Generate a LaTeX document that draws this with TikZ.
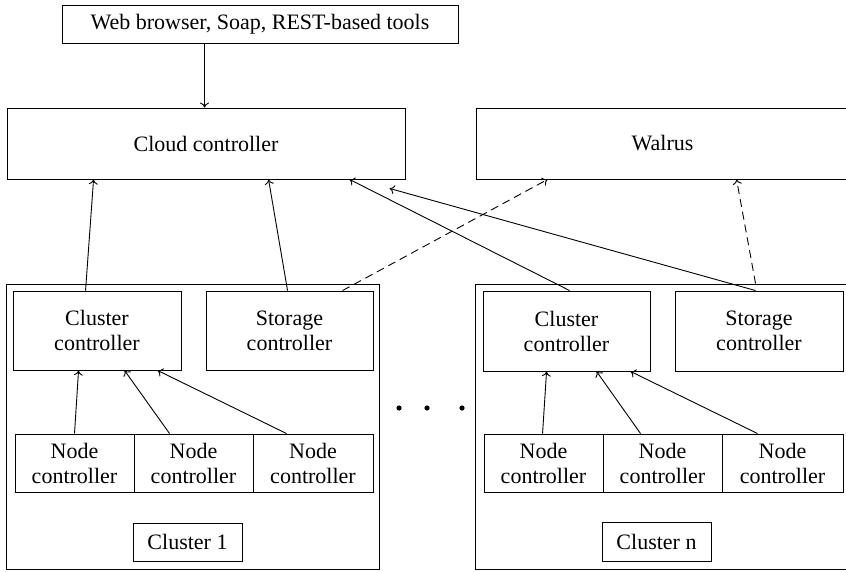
\documentclass[tikz,border=0pt]{standalone}
\usepackage{fontspec}
\setmainfont{Liberation Serif}
\usetikzlibrary{arrows.meta}
\begin{document}
\begin{tikzpicture}[x=1pt,y=-1pt,line width=0.9pt,
  box/.style={draw,inner sep=0pt,align=center,font=\fontsize{22}{25}\selectfont},
  arr/.style={-{To[length=5pt,width=9pt]}},
  darr/.style={-{To[length=5pt,width=9pt]},dash pattern=on 8pt off 5pt}]
\useasboundingbox (0,0) rectangle (846,572);
\clip (0,0) rectangle (846,572);
% top
\node[box,minimum width=396pt,minimum height=38pt] (web) at (260,24) {Web browser, Soap, REST-based tools};
\node[box,minimum width=398pt,minimum height=71pt] (cloud) at (206,143.5) {Cloud controller};
\node[box,minimum width=373pt,minimum height=71pt] (walrus) at (662.5,143.5) {Walrus};
% cluster 1
\node[box,minimum width=373pt,minimum height=285pt] (cl1) at (192.5,426.5) {};
\node[box,minimum width=168pt,minimum height=79pt] (cc1) at (97,330.5) {Cluster\\controller};
\node[box,minimum width=167pt,minimum height=79pt] (sc1) at (289.5,330.5) {Storage\\controller};
\node[box,minimum width=119pt,minimum height=58pt] (n11) at (74.5,463) {Node\\controller};
\node[box,minimum width=119pt,minimum height=58pt] (n12) at (193.5,463) {Node\\controller};
\node[box,minimum width=120pt,minimum height=58pt] (n13) at (313,463) {Node\\controller};
\node[box,minimum width=109pt,minimum height=38pt] (lab1) at (187.5,542) {Cluster 1};
% cluster n
\node[box,minimum width=373pt,minimum height=285pt] (cln) at (661.5,426.5) {};
\node[box,minimum width=167pt,minimum height=80pt] (ccn) at (566.5,331) {Cluster\\controller};
\node[box,minimum width=168pt,minimum height=80pt] (scn) at (759,331) {Storage\\controller};
\node[box,minimum width=119pt,minimum height=58pt] (n21) at (543.5,463) {Node\\controller};
\node[box,minimum width=119pt,minimum height=58pt] (n22) at (662.5,463) {Node\\controller};
\node[box,minimum width=121pt,minimum height=58pt] (n23) at (782.5,463) {Node\\controller};
\node[box,minimum width=109pt,minimum height=39pt] (labn) at (656.5,541.5) {Cluster n};
% dots
\fill (399,408) circle (2.6pt) (427,408) circle (2.6pt) (462,408) circle (2.6pt);
% arrows
\draw[arr] ([xshift=143pt]web.south west) -- ([xshift=198pt]cloud.north west);
\draw[arr] ([xshift=73pt]cc1.north west) -- ([xshift=87pt]cloud.south west);
\draw[arr] ([xshift=82pt]sc1.north west) -- ([xshift=262pt]cloud.south west);
\draw[arr] ([xshift=87pt]ccn.north west) -- ([xshift=343pt]cloud.south west);
\draw[arr] ([xshift=81pt]scn.north west) -- ([xshift=383pt,yshift=-9pt]cloud.south west);
\draw[darr] ([xshift=137pt]sc1.north west) -- ([xshift=72pt]walrus.south west);
\draw[darr] ([xshift=281pt]cln.north west) -- ([xshift=261pt]walrus.south west);
\draw[arr] (n11.north) -- ([xshift=66pt]cc1.south west);
\draw[arr] ([xshift=36pt]n12.north west) -- ([xshift=112pt]cc1.south west);
\draw[arr] ([xshift=34pt]n13.north west) -- ([xshift=145pt]cc1.south west);
\draw[arr] ([xshift=59pt]n21.north west) -- ([xshift=64pt]ccn.south west);
\draw[arr] ([xshift=38pt]n22.north west) -- ([xshift=114pt]ccn.south west);
\draw[arr] ([xshift=36pt]n23.north west) -- ([xshift=148pt]ccn.south west);
\end{tikzpicture}
\end{document}
